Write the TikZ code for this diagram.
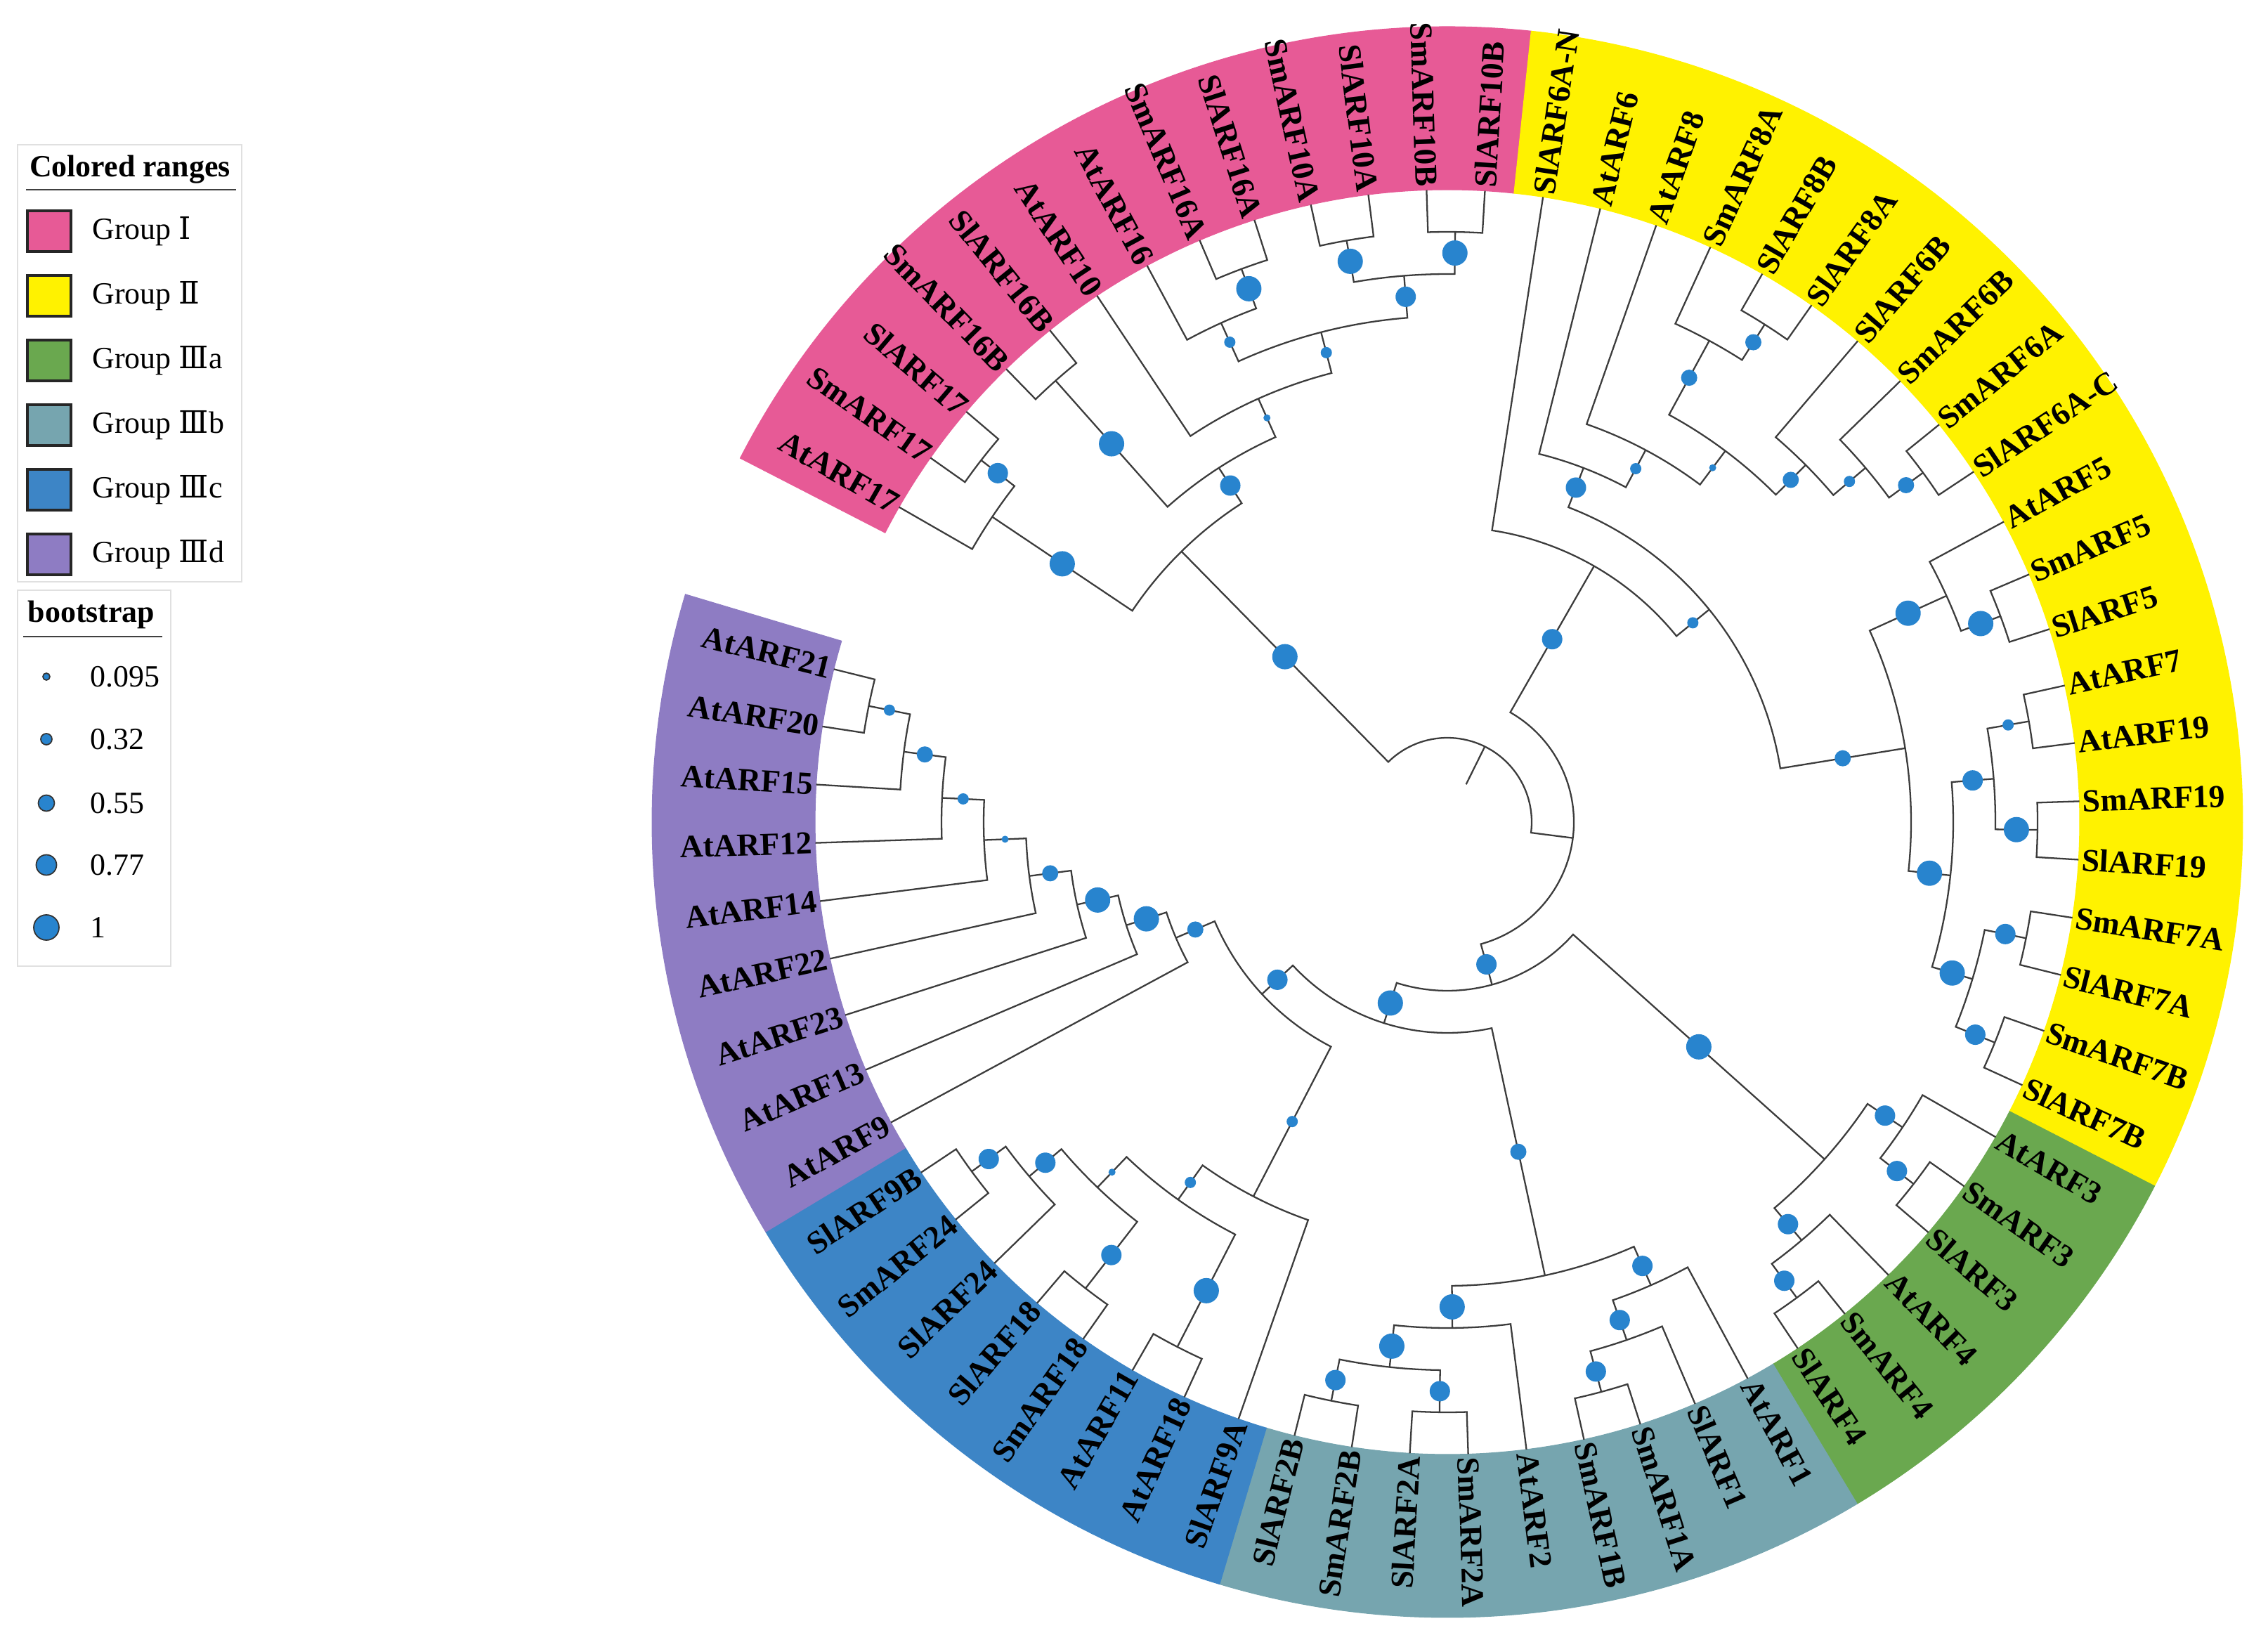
\documentclass[tikz,border=0pt]{standalone}
\usepackage{fontspec}
\setmainfont{Liberation Serif}
\newfontfamily\numfont{DejaVu Serif}
\usetikzlibrary{positioning}

\definecolor{grpI}{RGB}{231,90,150}
\definecolor{grpII}{RGB}{255,242,0}
\definecolor{grpIIIa}{RGB}{106,168,79}
\definecolor{grpIIIb}{RGB}{118,165,175}
\definecolor{grpIIIc}{RGB}{61,133,198}
\definecolor{grpIIId}{RGB}{142,124,195}
\definecolor{bootblue}{RGB}{40,132,206}
\definecolor{treeline}{RGB}{60,60,60}

\tikzstyle{branch} = [draw=treeline, line width=0.65pt]
\tikzstyle{taxon} = [inner sep=0pt, font=\fontsize{13}{15}\selectfont\bfseries]
\tikzstyle{support} = [fill=bootblue]
\tikzstyle{legendbox} = [draw=black!12, line width=0.6pt]
\tikzstyle{swatch} = [rectangle, draw=black!85, line width=1pt,
    minimum width=0.62cm, minimum height=0.58cm, inner sep=0pt]
\tikzstyle{legendtext} = [inner sep=0pt, font=\fontsize{12.5}{14}\selectfont]
\tikzstyle{legendtitle} = [inner sep=0pt, font=\fontsize{12.5}{14}\selectfont\bfseries]
\tikzstyle{keydot} = [circle, fill=bootblue, draw=black!80, line width=0.5pt, inner sep=0pt]

% 68 slots round the circle, two of them stay empty
\newcommand{\leafstep}{5.294118}
\newcommand{\tipr}{9}
\newcommand{\ringr}{11.32}
\newcommand{\storeval}[3]{\expandafter\xdef\csname #1@#2\endcsname{#3}}
\newcommand{\fetchval}[2]{\csname #1@#2\endcsname}

% slot, name, label
\newcommand{\tipleaf}[3]{%
  \pgfmathsetmacro\leafang{81.3-(#1)*\leafstep}%
  \storeval{ang}{#2}{\leafang}\storeval{rad}{#2}{\tipr}%
  \coordinate (#2) at (\leafang:\tipr);
  \pgfmathsetmacro\leafcos{cos(\leafang)}%
  \ifdim\leafcos pt<0pt
    \node[taxon, anchor=east, rotate=\leafang+180] (#2-name) at ({\leafang}:{\tipr+0.04}) {#3};
  \else
    \node[taxon, anchor=west, rotate=\leafang] (#2-name) at ({\leafang}:{\tipr+0.04}) {#3};
  \fi
}

% name, height, first child, its support, second child, its support
\newcommand{\clade}[6]{%
  \pgfmathsetmacro\cladeR{\tipr-0.6*#2}%
  \pgfmathsetmacro\cladeA{\fetchval{ang}{#3}}%
  \pgfmathsetmacro\cladeB{\fetchval{ang}{#5}}%
  \pgfmathsetmacro\cladeM{(\cladeA+\cladeB)/2}%
  \storeval{ang}{#1}{\cladeM}\storeval{rad}{#1}{\cladeR}%
  \coordinate (#1) at (\cladeM:\cladeR);
  \path[branch] (#3) -- (\cladeA:\cladeR) arc[start angle=\cladeA, end angle=\cladeB, radius=\cladeR] -- (#5);
  \supportdot{#3}{#4}\supportdot{#5}{#6}%
}
\newcommand{\supportdot}[2]{%
  \ifnum#2>0
    \pgfmathsetmacro\dotrad{{0,0.05,0.08,0.115,0.145,0.18}[#2]}%
    \pgfmathsetmacro\dotang{\fetchval{ang}{#1}}%
    \pgfmathsetmacro\dotpos{(\fetchval{rad}{#1}+\cladeR)/2}%
    \fill[support] (\dotang:\dotpos) circle[radius=\dotrad];
  \fi
}

% colour, first slot, last slot
\newcommand{\grouprange}[3]{%
  \pgfmathsetmacro\rangeA{81.3-(#2-0.5)*\leafstep}%
  \pgfmathsetmacro\rangeB{81.3-(#3+0.5)*\leafstep}%
  \path[fill=#1, draw=#1, line width=0.3pt] (\rangeA:\tipr) arc[start angle=\rangeA, end angle=\rangeB, radius=\tipr]
    -- (\rangeB:\ringr) arc[start angle=\rangeB, end angle=\rangeA, radius=\ringr] -- cycle;
}

\begin{document}
\begin{tikzpicture}
  \useasboundingbox (0,0) rectangle (32.28,23.43);

  \begin{scope}[shift={(20.60,11.73)}]
    \grouprange{grpI}{-13}{-1}
    \grouprange{grpII}{0}{20}
    \grouprange{grpIIIa}{21}{26}
    \grouprange{grpIIIb}{27}{35}
    \grouprange{grpIIIc}{36}{43}
    \grouprange{grpIIId}{44}{52}

    \tipleaf{-13}{at17}{AtARF17}
    \tipleaf{-12}{sm17}{SmARF17}
    \tipleaf{-11}{sl17}{SlARF17}
    \tipleaf{-10}{sm16b}{SmARF16B}
    \tipleaf{-9}{sl16b}{SlARF16B}
    \tipleaf{-8}{at10}{AtARF10}
    \tipleaf{-7}{at16}{AtARF16}
    \tipleaf{-6}{sm16a}{SmARF16A}
    \tipleaf{-5}{sl16a}{SlARF16A}
    \tipleaf{-4}{sm10a}{SmARF10A}
    \tipleaf{-3}{sl10a}{SlARF10A}
    \tipleaf{-2}{sm10b}{SmARF10B}
    \tipleaf{-1}{sl10b}{SlARF10B}
    \tipleaf{0}{sl6an}{SlARF6A-N}
    \tipleaf{1}{at6}{AtARF6}
    \tipleaf{2}{at8}{AtARF8}
    \tipleaf{3}{sm8a}{SmARF8A}
    \tipleaf{4}{sl8b}{SlARF8B}
    \tipleaf{5}{sl8a}{SlARF8A}
    \tipleaf{6}{sl6b}{SlARF6B}
    \tipleaf{7}{sm6b}{SmARF6B}
    \tipleaf{8}{sm6a}{SmARF6A}
    \tipleaf{9}{sl6ac}{SlARF6A-C}
    \tipleaf{10}{at5}{AtARF5}
    \tipleaf{11}{sm5}{SmARF5}
    \tipleaf{12}{sl5}{SlARF5}
    \tipleaf{13}{at7}{AtARF7}
    \tipleaf{14}{at19}{AtARF19}
    \tipleaf{15}{sm19}{SmARF19}
    \tipleaf{16}{sl19}{SlARF19}
    \tipleaf{17}{sm7a}{SmARF7A}
    \tipleaf{18}{sl7a}{SlARF7A}
    \tipleaf{19}{sm7b}{SmARF7B}
    \tipleaf{20}{sl7b}{SlARF7B}
    \tipleaf{21}{at3}{AtARF3}
    \tipleaf{22}{sm3}{SmARF3}
    \tipleaf{23}{sl3}{SlARF3}
    \tipleaf{24}{at4}{AtARF4}
    \tipleaf{25}{sm4}{SmARF4}
    \tipleaf{26}{sl4}{SlARF4}
    \tipleaf{27}{at1}{AtARF1}
    \tipleaf{28}{sl1}{SlARF1}
    \tipleaf{29}{sm1a}{SmARF1A}
    \tipleaf{30}{sm1b}{SmARF1B}
    \tipleaf{31}{at2}{AtARF2}
    \tipleaf{32}{sm2a}{SmARF2A}
    \tipleaf{33}{sl2a}{SlARF2A}
    \tipleaf{34}{sm2b}{SmARF2B}
    \tipleaf{35}{sl2b}{SlARF2B}
    \tipleaf{36}{sl9a}{SlARF9A}
    \tipleaf{37}{at18}{AtARF18}
    \tipleaf{38}{at11}{AtARF11}
    \tipleaf{39}{sm18}{SmARF18}
    \tipleaf{40}{sl18}{SlARF18}
    \tipleaf{41}{sl24}{SlARF24}
    \tipleaf{42}{sm24}{SmARF24}
    \tipleaf{43}{sl9b}{SlARF9B}
    \tipleaf{44}{at9}{AtARF9}
    \tipleaf{45}{at13}{AtARF13}
    \tipleaf{46}{at23}{AtARF23}
    \tipleaf{47}{at22}{AtARF22}
    \tipleaf{48}{at14}{AtARF14}
    \tipleaf{49}{at12}{AtARF12}
    \tipleaf{50}{at15}{AtARF15}
    \tipleaf{51}{at20}{AtARF20}
    \tipleaf{52}{at21}{AtARF21}

    % group I
    \clade{p17}{1}{sm17}{0}{sl17}{0}
    \clade{c17}{2}{at17}{0}{p17}{4}
    \clade{p16b}{1}{sm16b}{0}{sl16b}{0}
    \clade{p16a}{1}{sm16a}{0}{sl16a}{0}
    \clade{c16}{2}{at16}{0}{p16a}{5}
    \clade{p10a}{1}{sm10a}{0}{sl10a}{0}
    \clade{p10b}{1}{sm10b}{0}{sl10b}{0}
    \clade{c10}{2}{p10a}{5}{p10b}{5}
    \clade{c1610}{3}{c16}{2}{c10}{4}
    \clade{c10x}{4}{at10}{0}{c1610}{2}
    \clade{c16b}{5}{p16b}{5}{c10x}{1}
    \clade{grpI}{6}{c17}{5}{c16b}{4}
    % group II
    \clade{p8}{1}{sl8b}{0}{sl8a}{0}
    \clade{c8}{2}{sm8a}{0}{p8}{3}
    \clade{p6a}{1}{sm6a}{0}{sl6ac}{0}
    \clade{c6b}{2}{sm6b}{0}{p6a}{3}
    \clade{c6}{3}{sl6b}{0}{c6b}{2}
    \clade{c86}{4}{c8}{3}{c6}{3}
    \clade{c8at}{5}{at8}{0}{c86}{1}
    \clade{c6at}{6}{at6}{0}{c8at}{2}
    \clade{p5}{1}{sm5}{0}{sl5}{0}
    \clade{c5}{2}{at5}{0}{p5}{5}
    \clade{p7}{1}{at7}{0}{at19}{0}
    \clade{p19}{1}{sm19}{0}{sl19}{0}
    \clade{c719}{2}{p7}{2}{p19}{5}
    \clade{p7a}{1}{sm7a}{0}{sl7a}{0}
    \clade{p7b}{1}{sm7b}{0}{sl7b}{0}
    \clade{c7ab}{2}{p7a}{4}{p7b}{4}
    \clade{c7}{3}{c719}{4}{c7ab}{5}
    \clade{c57}{4}{c5}{5}{c7}{5}
    \clade{c65}{7}{c6at}{4}{c57}{3}
    \clade{grpII}{8}{sl6an}{0}{c65}{2}
    % group IIIa
    \clade{p3}{1}{sm3}{0}{sl3}{0}
    \clade{c3}{2}{at3}{0}{p3}{4}
    \clade{p4}{1}{sm4}{0}{sl4}{0}
    \clade{c4}{2}{at4}{0}{p4}{4}
    \clade{grpIIIa}{3}{c3}{4}{c4}{4}
    % group IIIb
    \clade{p1}{1}{sm1a}{0}{sm1b}{0}
    \clade{c1s}{2}{sl1}{0}{p1}{4}
    \clade{c1}{3}{at1}{0}{c1s}{4}
    \clade{p2a}{1}{sm2a}{0}{sl2a}{0}
    \clade{p2b}{1}{sm2b}{0}{sl2b}{0}
    \clade{c2ab}{2}{p2a}{4}{p2b}{4}
    \clade{c2}{3}{at2}{0}{c2ab}{5}
    \clade{grpIIIb}{4}{c1}{4}{c2}{5}
    % group IIIc
    \clade{pat}{1}{at18}{0}{at11}{0}
    \clade{p18}{1}{sm18}{0}{sl18}{0}
    \clade{p9b}{1}{sm24}{0}{sl9b}{0}
    \clade{c24}{2}{sl24}{0}{p9b}{4}
    \clade{c18}{3}{p18}{4}{c24}{4}
    \clade{c11}{4}{pat}{5}{c18}{1}
    \clade{grpIIIc}{5}{sl9a}{0}{c11}{2}
    % group IIId
    \clade{p20}{1}{at20}{0}{at21}{0}
    \clade{c15}{2}{at15}{0}{p20}{2}
    \clade{c12}{3}{at12}{0}{c15}{3}
    \clade{c14}{4}{at14}{0}{c12}{2}
    \clade{c22}{5}{at22}{0}{c14}{1}
    \clade{c23}{6}{at23}{0}{c22}{3}
    \clade{c13}{7}{at13}{0}{c23}{5}
    \clade{grpIIId}{8}{at9}{0}{c13}{5}
    % backbone
    \clade{nodeW}{9}{grpIIIc}{2}{grpIIId}{3}
    \clade{nodeZ}{10}{grpIIIb}{3}{nodeW}{4}
    \clade{nodeY}{11}{grpIIIa}{5}{nodeZ}{5}
    \clade{nodeX}{12}{grpII}{4}{nodeY}{4}
    \clade{root}{13}{grpI}{5}{nodeX}{0}
    \pgfmathsetmacro\rootang{\fetchval{ang}{root}}
    \coordinate (rootbase) at (\rootang:0.6);
    \path[branch] (root) -- (rootbase);
  \end{scope}

  % legend: colored ranges
  \draw[legendbox] (0.25,15.15) rectangle (3.44,21.37);
  \node[legendtitle] (rangetitle) at (1.85,21.02) {Colored ranges};
  \draw[black!75, line width=0.8pt] (0.37,20.73) -- (3.36,20.73);
  \node[swatch, fill=grpI] (swI) at (0.70,20.14) {};
  \node[swatch, fill=grpII, below=0.305cm of swI] (swII) {};
  \node[swatch, fill=grpIIIa, below=0.305cm of swII] (swIIIa) {};
  \node[swatch, fill=grpIIIb, below=0.305cm of swIIIa] (swIIIb) {};
  \node[swatch, fill=grpIIIc, below=0.305cm of swIIIb] (swIIIc) {};
  \node[swatch, fill=grpIIId, below=0.305cm of swIIIc] (swIIId) {};
  \node[legendtext, right=0.28cm of swI] (txtI) {Group {\numfont Ⅰ}};
  \node[legendtext, right=0.28cm of swII] (txtII) {Group {\numfont Ⅱ}};
  \node[legendtext, right=0.28cm of swIIIa] (txtIIIa) {Group {\numfont Ⅲ}a};
  \node[legendtext, right=0.28cm of swIIIb] (txtIIIb) {Group {\numfont Ⅲ}b};
  \node[legendtext, right=0.28cm of swIIIc] (txtIIIc) {Group {\numfont Ⅲ}c};
  \node[legendtext, right=0.28cm of swIIId] (txtIIId) {Group {\numfont Ⅲ}d};

  % legend: bootstrap
  \draw[legendbox] (0.25,9.68) rectangle (2.43,15.03);
  \node[legendtitle] (boottitle) at (1.30,14.68) {bootstrap};
  \draw[black!75, line width=0.8pt] (0.33,14.37) -- (2.31,14.37);
  \node[keydot, minimum size=0.10cm] (bs1) at (0.66,13.80) {};
  \node[keydot, minimum size=0.16cm] (bs2) at (0.66,12.91) {};
  \node[keydot, minimum size=0.23cm] (bs3) at (0.66,12.00) {};
  \node[keydot, minimum size=0.29cm] (bs4) at (0.66,11.12) {};
  \node[keydot, minimum size=0.36cm] (bs5) at (0.66,10.23) {};
  \node[legendtext, anchor=west] (bl1) at (1.28,13.80) {0.095};
  \node[legendtext, anchor=west] (bl2) at (1.28,12.91) {0.32};
  \node[legendtext, anchor=west] (bl3) at (1.28,12.00) {0.55};
  \node[legendtext, anchor=west] (bl4) at (1.28,11.12) {0.77};
  \node[legendtext, anchor=west] (bl5) at (1.28,10.23) {1};
\end{tikzpicture}
\end{document}
